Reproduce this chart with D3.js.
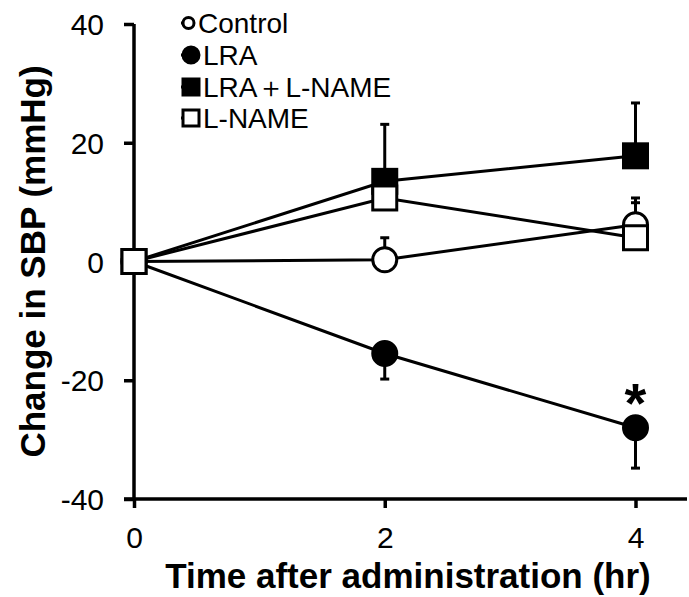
<!DOCTYPE html>
<html lang="en">
<head>
    <meta charset="UTF-8">
    <title>Change in SBP</title>
    <script src="https://d3js.org/d3.v7.min.js"></script>
    <style>
        body { margin: 0; background: #fff; }
        text { font-family: "Liberation Sans", Arial, sans-serif; }
    </style>
</head>
<body>
<script>
    // data
    var times = [0, 2, 4];
    var groupNames = ["Control", "LRA", "LRA\uFF0BL-NAME", "L-NAME"];
    var control = [0, 0.3, 6.2];
    var lra = [0, -15.5, -28];
    var lraLname = [0, 13.5, 17.8];
    var lname = [0, 10.7, 4.0];
    // error bar length (SE); sign gives the direction it is drawn
    var controlErr = [0, 3.7, 4.5];
    var lraErr = [0, -4.3, -6.8];
    var lraLnameErr = [0, 9.6, 8.9];
    var lnameErr = [0, 2, 5.9];
    var yTicks = [-40, -20, 0, 20, 40];
    var xTicks = [0, 2, 4];

    var w = 689, h = 597;

    var svg = d3.select("body").append("svg")
        .attr("width", w)
        .attr("height", h);

    var xScale = d3.scaleLinear()
        .domain([0, 4])
        .range([134, 635.5]);

    var yScale = d3.scaleLinear()
        .domain([-40, 40])
        .range([499, 24]);

    var series = [
        { name: groupNames[0], values: control, err: controlErr, shape: "circle", fill: "#fff" },
        { name: groupNames[1], values: lra, err: lraErr, shape: "circle", fill: "#000" },
        { name: groupNames[2], values: lraLname, err: lraLnameErr, shape: "square", fill: "#000" },
        { name: groupNames[3], values: lname, err: lnameErr, shape: "square", fill: "#fff" }
    ];

    // axes
    var yAxis = d3.axisLeft(yScale).tickValues(yTicks).tickSize(10).tickPadding(20)
        .tickFormat(function(d) { return String(d); });
    var gy = svg.append("g")
        .attr("transform", "translate(" + xScale(0) + ",0)")
        .call(yAxis);
    gy.select(".domain").attr("stroke-width", 3.5).attr("d", "M0," + yScale(40) + "V" + yScale(-40));
    gy.selectAll(".tick line").attr("stroke-width", 3.5);
    gy.selectAll(".tick text").attr("font-size", 30).attr("fill", "#000").attr("dy", "0.35em");

    var xAxis = d3.axisBottom(xScale).tickValues(xTicks).tickSize(9).tickPadding(19)
        .tickFormat(function(d) { return String(d); });
    var gx = svg.append("g")
        .attr("transform", "translate(0," + yScale(-40) + ")")
        .call(xAxis);
    gx.select(".domain").attr("stroke-width", 3.5).attr("d", "M" + (xScale(0) - 10) + ",0H687");
    gx.selectAll(".tick line").attr("stroke-width", 3.5);
    gx.selectAll(".tick text").attr("font-size", 30).attr("fill", "#000");

    // axis titles
    svg.append("text")
        .attr("transform", "translate(45," + yScale(0) + ") rotate(-90)")
        .attr("text-anchor", "middle")
        .attr("font-size", 35)
        .attr("font-weight", "bold")
        .text("Change in SBP (mmHg)");

    svg.append("text")
        .attr("x", 408)
        .attr("y", 588)
        .attr("text-anchor", "middle")
        .attr("font-size", 35)
        .attr("font-weight", "bold")
        .text("Time after administration (hr)");

    var line = d3.line()
        .x(function(d, i) { return xScale(times[i]); })
        .y(function(d) { return yScale(d); });

    var r = 12;

    function drawMarker(g, s, cx, cy, size) {
        if (s.shape === "circle") {
            g.append("circle")
                .attr("cx", cx).attr("cy", cy).attr("r", size)
                .attr("fill", s.fill).attr("stroke", "#000").attr("stroke-width", 3);
        } else {
            g.append("rect")
                .attr("x", cx - size).attr("y", cy - size)
                .attr("width", size * 2).attr("height", size * 2)
                .attr("fill", s.fill).attr("stroke", "#000").attr("stroke-width", 3);
        }
    }

    // lines and error bars first, markers on top; L-NAME drawn last
    var drawOrder = [1, 0, 2, 3];
    drawOrder.forEach(function(k) {
        var s = series[k];
        var g = svg.append("g");
        g.append("path")
            .datum(s.values)
            .attr("d", line)
            .attr("fill", "none")
            .attr("stroke", "#000")
            .attr("stroke-width", 3);
        s.values.forEach(function(v, i) {
            if (s.err[i] === 0) return;
            var x = xScale(times[i]);
            var y1 = yScale(v);
            var y2 = yScale(v + s.err[i]);
            g.append("line")
                .attr("x1", x).attr("x2", x).attr("y1", y1).attr("y2", y2)
                .attr("stroke", "#000").attr("stroke-width", 3);
            g.append("line")
                .attr("x1", x - 4.5).attr("x2", x + 4.5).attr("y1", y2).attr("y2", y2)
                .attr("stroke", "#000").attr("stroke-width", 3);
        });
    });
    drawOrder.forEach(function(k) {
        var s = series[k];
        var g = svg.append("g");
        s.values.forEach(function(v, i) {
            drawMarker(g, s, xScale(times[i]), yScale(v), r);
        });
    });

    // significance mark
    svg.append("text")
        .attr("x", xScale(4))
        .attr("y", yScale(lra[2]) - 6)
        .attr("text-anchor", "middle")
        .attr("font-size", 56)
        .attr("font-weight", "bold")
        .text("*");

    // legend
    var legendRows = [23, 55, 87, 118];
    var legendSize = [5.5, 8, 8, 8];
    series.forEach(function(s, i) {
        var gl = svg.append("g").attr("transform", "translate(188," + legendRows[i] + ")");
        var sz = legendSize[i];
        gl.append("line")
            .attr("x1", -7).attr("x2", 0).attr("y1", 0).attr("y2", 0)
            .attr("stroke", "#000").attr("stroke-width", 3);
        drawMarker(gl, s, sz - 5, 0, sz);
        gl.append("text")
            .attr("x", 2 * sz - 1)
            .attr("y", 0)
            .attr("dy", "0.36em")
            .attr("font-size", 28)
            .text(s.name);
    });
</script>
</body>
</html>
